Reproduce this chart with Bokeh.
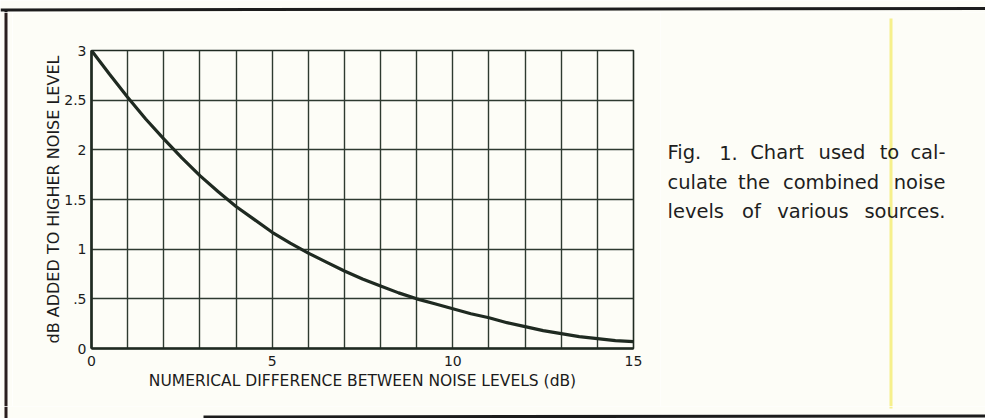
from bokeh.plotting import figure
from bokeh.models import FixedTicker, Range1d
from bokeh.layouts import row, column
from bokeh.core.properties import value
from bokeh.embed import file_html
from bokeh.resources import INLINE

# ---- data ----
diff_db = [0, 0.5, 1, 1.5, 2, 2.5, 3, 3.5, 4, 4.5, 5, 5.5, 6, 6.5, 7, 7.5,
           8, 8.5, 9, 9.5, 10, 10.5, 11, 11.5, 12, 12.5, 13, 13.5, 14, 14.5, 15]
added_db = [3.0, 2.76, 2.53, 2.31, 2.11, 1.92, 1.74, 1.58, 1.43, 1.30, 1.17,
            1.06, 0.96, 0.87, 0.78, 0.70, 0.63, 0.56, 0.50, 0.45, 0.40, 0.35,
            0.31, 0.26, 0.22, 0.18, 0.15, 0.12, 0.10, 0.08, 0.07]
x_ticks = [0, 5, 10, 15]
x_grid_ticks = list(range(16))
y_ticks = [0, 0.5, 1, 1.5, 2, 2.5, 3]
y_tick_labels = ["0", ".5", "1", "1.5", "2", "2.5", "3"]
x_title = "NUMERICAL DIFFERENCE BETWEEN NOISE LEVELS (dB)"
y_title = "dB ADDED TO HIGHER NOISE LEVEL"
caption_words = [
    ["Fig.", "1.", "Chart", "used", "to", "cal-"],
    ["culate", "the", "combined", "noise"],
    ["levels", "of", "various", "sources."],
]

INK = "#1f2a21"
GRID = "#2e3a30"
PAPER = "#fdfdf7"
FONT = "DejaVu Sans"
EDGE = "#1c1c1c"
YELLOW = "#f6f08c"

W, H = 985, 418
TOP, BOT, LEFT, SPLIT = 12, 406, 12, 660   # page-pixel layout of the panels


def blank(width, height, xr, yr):
    f = figure(width=width, height=height, output_backend="svg", toolbar_location=None,
               x_range=Range1d(*xr), y_range=Range1d(*yr),
               x_axis_type=None, y_axis_type=None, frame_align=False,
               min_border=0, min_border_left=0, min_border_right=0,
               min_border_top=0, min_border_bottom=0)
    f.background_fill_color = PAPER
    f.border_fill_color = PAPER
    f.outline_line_color = None
    f.grid.visible = False
    return f


# ---- main chart ----
p = figure(width=SPLIT - LEFT, height=BOT - TOP, output_backend="svg", toolbar_location=None,
           x_range=Range1d(0, 15), y_range=Range1d(0, 3), frame_align=False,
           min_border_left=91 - LEFT, min_border_right=SPLIT - 633,
           min_border_top=50 - TOP, min_border_bottom=BOT - 348)
p.background_fill_color = PAPER
p.border_fill_color = PAPER
p.outline_line_color = INK
p.outline_line_width = 1.6

p.line(diff_db, added_db, line_color=INK, line_width=3.2)

p.xaxis.ticker = FixedTicker(ticks=x_ticks)
p.yaxis.ticker = FixedTicker(ticks=y_ticks)
p.yaxis.major_label_overrides = {t: s for t, s in zip(y_ticks, y_tick_labels)}
p.xgrid.ticker = FixedTicker(ticks=x_grid_ticks)
p.ygrid.ticker = FixedTicker(ticks=y_ticks)
for g in (p.xgrid, p.ygrid):
    g.grid_line_color = GRID
    g.grid_line_width = 1.4
    g.grid_line_alpha = 1.0

for ax in (p.xaxis, p.yaxis):
    ax.axis_line_color = INK
    ax.axis_line_width = 2.6
    ax.major_tick_in = 0
    ax.major_tick_out = 0
    ax.minor_tick_in = 0
    ax.minor_tick_out = 0
    ax.major_label_text_font = FONT
    ax.major_label_text_font_size = "14px"
    ax.major_label_text_color = "#1b1b1b"
    ax.axis_label_text_font = FONT
    ax.axis_label_text_font_style = "normal"
    ax.axis_label_text_color = "#1b1b1b"

p.xaxis.axis_label = x_title
p.xaxis.axis_label_text_font_size = "15.5px"
p.xaxis.major_label_standoff = 7
p.xaxis.axis_label_standoff = 3
p.yaxis.axis_label = y_title
p.yaxis.axis_label_text_font_size = "16px"
p.yaxis.major_label_standoff = 5
p.yaxis.axis_label_standoff = -2

# ---- scan-frame strips (page pixel coordinates, y downwards) ----
top = blank(W, TOP, (0, W), (TOP, 0))
top.segment(x0=[0, 5.5], y0=[9.5, 8.5], x1=[W, 5.5], y1=[8.0, TOP], line_color=EDGE, line_width=3)

left = blank(LEFT, BOT - TOP, (0, LEFT), (BOT, TOP))
left.segment(x0=[5.5], y0=[TOP], x1=[5.5], y1=[BOT], line_color="#2a1f1f", line_width=3)

bottom = blank(W, H - BOT, (0, W), (H, BOT))
bottom.segment(x0=[5.5], y0=[BOT], x1=[5.5], y1=[H], line_color="#2a1f1f", line_width=3)
bottom.segment(x0=[203], y0=[416.5], x1=[W], y1=[415.5], line_color=EDGE, line_width=3)
bottom.segment(x0=[890.5], y0=[BOT], x1=[890.5], y1=[408], line_color=YELLOW, line_width=3)

# ---- caption panel ----
cap = blank(W - SPLIT, BOT - TOP, (SPLIT, W), (BOT, TOP))
cap.segment(x0=[890.5], y0=[18], x1=[890.5], y1=[BOT], line_color=YELLOW, line_width=3)

line_base = [152, 182, 211]
word_pos = [
    [(667, "left"), (728, "center"), (776.5, "center"), (841.5, "center"), (889, "center"), (945, "right")],
    [(667, "left"), (753.5, "center"), (830.5, "center"), (945, "right")],
    [(667, "left"), (751, "center"), (812.5, "center"), (945, "right")],
]
groups = {"left": ([], [], []), "center": ([], [], []), "right": ([], [], [])}
for words, poss, base in zip(caption_words, word_pos, line_base):
    for w, (X, al) in zip(words, poss):
        gx, gy, gt = groups[al]
        gx.append(X)
        gy.append(base)
        gt.append(w)
for al, (gx, gy, gt) in groups.items():
    cap.text(x=gx, y=gy, text=gt, text_font=value(FONT), text_font_size="19.5px",
             text_color="#1e1e1e", text_align=al, text_baseline="alphabetic")

layout = column(top, row(left, p, cap), bottom)
open("out.html", "w").write(file_html(layout, INLINE))
